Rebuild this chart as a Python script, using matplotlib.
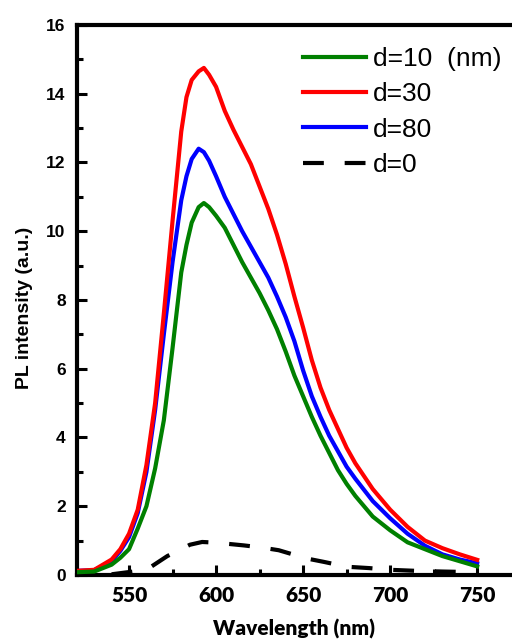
import matplotlib.pyplot as plt
from matplotlib.ticker import MultipleLocator

# wavelength grid (nm)
wl = [520, 530, 540, 545, 550, 555, 560, 565, 570, 575, 580, 583, 586, 590, 593, 596,
      600, 605, 610, 615, 620, 625, 630, 635, 640, 645, 650, 655, 660, 665, 670, 675,
      680, 690, 700, 710, 720, 730, 740, 750]

# PL intensity for each spacer thickness
d10 = [0.08, 0.10, 0.30, 0.50, 0.75, 1.35, 2.0, 3.1, 4.5, 6.6, 8.8, 9.6, 10.25, 10.7, 10.82, 10.7,
       10.45, 10.1, 9.6, 9.1, 8.65, 8.2, 7.7, 7.15, 6.5, 5.8, 5.2, 4.6, 4.05, 3.55, 3.05, 2.65,
       2.3, 1.7, 1.3, 0.95, 0.75, 0.55, 0.4, 0.25]
d30 = [0.12, 0.15, 0.45, 0.75, 1.2, 1.9, 3.2, 5.0, 7.6, 10.3, 12.9, 13.9, 14.4, 14.65, 14.75, 14.55,
       14.2, 13.5, 12.95, 12.45, 11.95, 11.3, 10.65, 9.9, 9.05, 8.1, 7.2, 6.25, 5.45, 4.8, 4.25, 3.7,
       3.25, 2.5, 1.9, 1.4, 1.0, 0.78, 0.6, 0.44]
d80 = [0.12, 0.14, 0.40, 0.70, 1.1, 1.8, 3.0, 4.8, 7.0, 9.1, 10.9, 11.6, 12.1, 12.4, 12.3, 12.05,
       11.6, 11.0, 10.5, 10.0, 9.55, 9.1, 8.65, 8.1, 7.5, 6.8, 5.95, 5.2, 4.6, 4.05, 3.6, 3.15,
       2.8, 2.15, 1.65, 1.2, 0.85, 0.6, 0.45, 0.34]

# reference without spacer (dashed)
wl0 = [540, 560, 566, 572, 578, 585, 592, 600, 608, 616, 626, 636, 644, 650, 662,
       675, 688, 700, 715, 730, 750]
d0 = [0.02, 0.15, 0.35, 0.55, 0.7, 0.88, 0.96, 0.94, 0.9, 0.86, 0.8, 0.72, 0.6, 0.5, 0.38,
      0.24, 0.2, 0.15, 0.12, 0.1, 0.08]

fig = plt.figure(figsize=(5.12, 6.4), dpi=100)
ax = fig.add_axes([0.150, 0.1016, 0.85, 0.8594])

lw = 3.0
ax.plot(wl, d10, color='#008000', lw=lw, label='d=10  (nm)', zorder=4)
ax.plot(wl, d30, color='#ff0000', lw=lw, label='d=30', zorder=3)
ax.plot(wl, d80, color='#0000ff', lw=lw, label='d=80', zorder=2)
ax.plot(wl0, d0, color='black', lw=lw, ls=(0, (5, 5)), label='d=0', zorder=5)

ax.set_xlim(520, 770)
ax.set_ylim(0, 16)
ax.xaxis.set_major_locator(MultipleLocator(50))
ax.xaxis.set_minor_locator(MultipleLocator(25))
ax.yaxis.set_major_locator(MultipleLocator(2))
ax.yaxis.set_minor_locator(MultipleLocator(1))

for s in ['left', 'bottom', 'top']:
    ax.spines[s].set_linewidth(3)
ax.spines['right'].set_visible(False)

ax.tick_params(which='both', direction='in', top=False, right=False, width=2.2)
ax.tick_params(which='major', length=7, pad=8)
ax.tick_params(which='minor', length=4)

for t in ax.get_yticklabels():
    t.set_fontfamily('Liberation Sans')
    t.set_fontweight('bold')
    t.set_fontsize(12.5)
for t in ax.get_xticklabels():
    t.set_fontfamily('Lato')
    t.set_fontweight('heavy')
    t.set_fontsize(15)

ax.set_xlabel('Wavelength (nm)', fontfamily='Lato', fontweight='heavy', fontsize=15, labelpad=10)
ax.set_ylabel('PL intensity (a.u.)', fontfamily='Liberation Sans', fontweight='bold', fontsize=14)
ax.yaxis.set_label_coords(-0.10, 0.485)

ax.legend(loc='upper left', bbox_to_anchor=(0.52, 0.96), frameon=False,
          borderaxespad=0, borderpad=0, handlelength=2.4, handletextpad=0.25,
          labelspacing=0.43, prop={'family': 'Liberation Sans', 'size': 19})

fig.savefig('out.png', dpi=100)
